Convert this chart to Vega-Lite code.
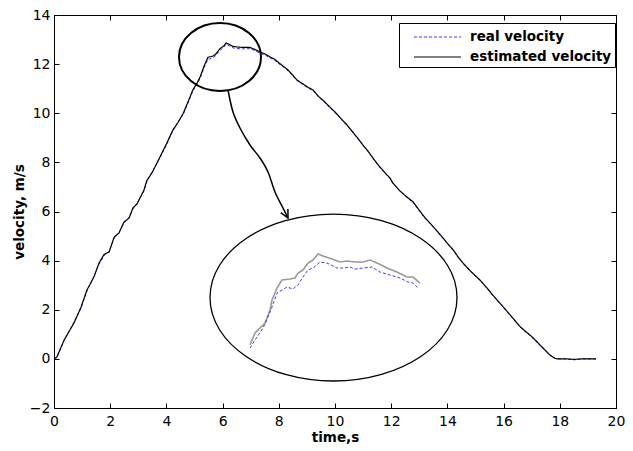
{
  "$schema": "https://vega.github.io/schema/vega-lite/v6.json",
  "width": 562,
  "height": 393,
  "autosize": {"type": "none"},
  "padding": {"left": 54, "top": 15, "right": 17, "bottom": 43},
  "background": "white",
  "config": {
    "view": {"stroke": "black", "strokeWidth": 1},
    "axis": {
      "grid": false,
      "domainColor": "black",
      "domainWidth": 1,
      "tickColor": "black",
      "tickWidth": 1,
      "tickSize": -5,
      "labelColor": "black",
      "labelFont": "DejaVu Sans",
      "labelFontSize": 14,
      "labelFlush": false,
      "labelOverlap": false,
      "titleColor": "black",
      "titleFont": "DejaVu Sans",
      "titleFontSize": 13.5,
      "titleFontWeight": "bold"
    }
  },
  "datasets": {
    "main": [
      {"t":0,"est":0,"real":0},{"t":0.1,"est":0.07,"real":0.05},{"t":0.36,"est":0.77,"real":0.74},{"t":0.71,"est":1.46,"real":1.5},{"t":0.96,"est":2.1,"real":2.06},{"t":1.17,"est":2.8,"real":2.76},{"t":1.42,"est":3.33,"real":3.36},{"t":1.6,"est":3.9,"real":3.85},{"t":1.78,"est":4.25,"real":4.2},{"t":1.96,"est":4.35,"real":4.38},{"t":2.14,"est":4.96,"real":4.9},{"t":2.31,"est":5.12,"real":5.15},{"t":2.49,"est":5.57,"real":5.52},{"t":2.67,"est":5.73,"real":5.76},{"t":2.81,"est":6.15,"real":6.1},{"t":2.95,"est":6.3,"real":6.33},{"t":3.2,"est":6.87,"real":6.82},{"t":3.3,"est":7.25,"real":7.2},{"t":3.5,"est":7.6,"real":7.63},{"t":3.77,"est":8.22,"real":8.18},{"t":4.0,"est":8.75,"real":8.7},{"t":4.23,"est":9.32,"real":9.28},{"t":4.4,"est":9.6,"real":9.63},{"t":4.6,"est":10.0,"real":9.95},{"t":4.8,"est":10.55,"real":10.5},{"t":4.94,"est":10.95,"real":10.9},{"t":5.1,"est":11.25,"real":11.2},{"t":5.2,"est":11.48,"real":11.42},{"t":5.35,"est":11.95,"real":11.88},{"t":5.48,"est":12.28,"real":12.2},{"t":5.66,"est":12.33,"real":12.26},{"t":5.75,"est":12.4,"real":12.34},{"t":5.9,"est":12.62,"real":12.55},{"t":6.05,"est":12.75,"real":12.7},{"t":6.12,"est":12.86,"real":12.8},{"t":6.25,"est":12.8,"real":12.74},{"t":6.37,"est":12.72,"real":12.66},{"t":6.5,"est":12.7,"real":12.64},{"t":6.7,"est":12.68,"real":12.62},{"t":6.97,"est":12.68,"real":12.63},{"t":7.15,"est":12.6,"real":12.55},{"t":7.33,"est":12.49,"real":12.44},{"t":7.5,"est":12.42,"real":12.38},{"t":7.69,"est":12.29,"real":12.25},{"t":7.85,"est":12.2,"real":12.16},{"t":8.04,"est":12.02,"real":11.98},{"t":8.2,"est":11.88,"real":11.85},{"t":8.33,"est":11.76,"real":11.72},{"t":8.5,"est":11.55,"real":11.52},{"t":8.65,"est":11.35,"real":11.33},{"t":8.85,"est":11.2,"real":11.17},{"t":9.05,"est":11.05,"real":11.02},{"t":9.22,"est":10.95,"real":10.92},{"t":9.4,"est":10.7,"real":10.68},{"t":9.6,"est":10.5,"real":10.47},{"t":9.82,"est":10.25,"real":10.22},{"t":10.0,"est":10.05,"real":10.03},{"t":10.2,"est":9.8,"real":9.77},{"t":10.43,"est":9.52,"real":9.5},{"t":10.6,"est":9.28,"real":9.25},{"t":10.8,"est":9.0,"real":8.98},{"t":11.0,"est":8.7,"real":8.68},{"t":11.2,"est":8.42,"real":8.4},{"t":11.4,"est":8.1,"real":8.08},{"t":11.6,"est":7.81,"real":7.78},{"t":11.8,"est":7.55,"real":7.53},{"t":11.96,"est":7.36,"real":7.34},{"t":12.06,"est":7.16,"real":7.14},{"t":12.3,"est":6.85,"real":6.83},{"t":12.55,"est":6.6,"real":6.58},{"t":12.78,"est":6.39,"real":6.36},{"t":13.0,"est":6.05,"real":6.03},{"t":13.2,"est":5.75,"real":5.73},{"t":13.38,"est":5.53,"real":5.51},{"t":13.6,"est":5.25,"real":5.23},{"t":13.8,"est":4.98,"real":4.96},{"t":13.99,"est":4.72,"real":4.7},{"t":14.2,"est":4.45,"real":4.43},{"t":14.4,"est":4.12,"real":4.1},{"t":14.56,"est":3.9,"real":3.88},{"t":14.8,"est":3.6,"real":3.58},{"t":15.0,"est":3.38,"real":3.36},{"t":15.16,"est":3.21,"real":3.19},{"t":15.4,"est":2.9,"real":2.88},{"t":15.6,"est":2.62,"real":2.6},{"t":15.77,"est":2.4,"real":2.38},{"t":16.0,"est":2.1,"real":2.08},{"t":16.2,"est":1.83,"real":1.81},{"t":16.33,"est":1.66,"real":1.64},{"t":16.58,"est":1.32,"real":1.3},{"t":16.8,"est":1.1,"real":1.08},{"t":16.94,"est":0.97,"real":0.95},{"t":17.1,"est":0.8,"real":0.78},{"t":17.3,"est":0.56,"real":0.54},{"t":17.5,"est":0.33,"real":0.31},{"t":17.65,"est":0.16,"real":0.14},{"t":17.8,"est":0.04,"real":0.03},{"t":17.9,"est":0.0,"real":0.0},{"t":18.2,"est":0.0,"real":0.0},{"t":18.5,"est":-0.02,"real":-0.04},{"t":18.8,"est":0.0,"real":0.0},{"t":19.29,"est":0.0,"real":0.0}
    ],
    "insetEst": [
      {"t":6.975,"v":0.564},{"t":7.153,"v":1.052},{"t":7.509,"v":1.459},{"t":7.687,"v":1.989},{"t":7.758,"v":2.396},{"t":7.936,"v":2.884},{"t":8.114,"v":3.21},{"t":8.399,"v":3.251},{"t":8.577,"v":3.292},{"t":8.683,"v":3.495},{"t":8.861,"v":3.617},{"t":9.039,"v":3.902},{"t":9.217,"v":4.024},{"t":9.395,"v":4.269},{"t":9.573,"v":4.187},{"t":9.893,"v":4.065},{"t":10.178,"v":3.943},{"t":10.427,"v":3.984},{"t":10.712,"v":3.943},{"t":10.996,"v":3.943},{"t":11.246,"v":4.024},{"t":11.495,"v":3.902},{"t":11.851,"v":3.7},{"t":12.206,"v":3.536},{"t":12.562,"v":3.332},{"t":12.776,"v":3.332},{"t":13.025,"v":3.088}
    ],
    "insetReal": [
      {"t":6.975,"v":0.441},{"t":7.153,"v":0.767},{"t":7.438,"v":1.256},{"t":7.616,"v":1.704},{"t":7.758,"v":2.111},{"t":7.936,"v":2.681},{"t":8.114,"v":2.803},{"t":8.292,"v":2.925},{"t":8.505,"v":2.844},{"t":8.683,"v":3.007},{"t":8.861,"v":3.332},{"t":9.039,"v":3.617},{"t":9.217,"v":3.699},{"t":9.466,"v":3.943},{"t":9.715,"v":3.902},{"t":10.071,"v":3.699},{"t":10.285,"v":3.699},{"t":10.534,"v":3.74},{"t":10.712,"v":3.658},{"t":10.996,"v":3.699},{"t":11.317,"v":3.74},{"t":11.601,"v":3.536},{"t":11.957,"v":3.414},{"t":12.313,"v":3.292},{"t":12.598,"v":3.129},{"t":12.776,"v":3.088},{"t":12.954,"v":2.884}
    ],
    "arrow": [
      {"t":6.192,"v":10.946},{"t":6.37,"v":10.05},{"t":6.619,"v":9.4},{"t":6.975,"v":8.707},{"t":7.331,"v":8.178},{"t":7.616,"v":7.608},{"t":7.865,"v":6.793},{"t":8.149,"v":6.142},{"t":8.327,"v":5.735}
    ]
  },
  "layer": [
    {
      "data": {"name": "main"},
      "mark": {"type": "line", "strokeWidth": 1, "interpolate": "linear"},
      "encoding": {
        "x": {"field": "t", "type": "quantitative", "scale": {"domain": [0, 20], "nice": false, "zero": false},
              "axis": {"orient": "bottom", "values": [0,2,4,6,8,10,12,14,16,18,20], "title": "time,s", "labelPadding": 11, "titlePadding": 2}},
        "y": {"field": "real", "type": "quantitative", "scale": {"domain": [-2, 14], "nice": false, "zero": false},
              "axis": {"orient": "left", "values": [-2,0,2,4,6,8,10,12,14], "title": "velocity, m/s", "labelPadding": 9, "titlePadding": 3}},
        "color": {"datum": "real velocity", "type": "nominal",
                  "scale": {"domain": ["real velocity", "estimated velocity"], "range": ["#3a3aff", "#000000"]},
                  "legend": {"orient": "none", "legendX": 345, "legendY": 8, "title": null, "symbolType": "M 0.1 0 L 4.8 0", "symbolSize": 400, "symbolStrokeWidth": 1.2, "labelFont": "DejaVu Sans", "labelFontSize": 13.5, "labelFontWeight": "bold", "labelColor": "black", "labelOffset": 46, "padding": 3, "rowPadding": 2, "strokeColor": "black", "fillColor": "white"}},
        "strokeDash": {"datum": "real velocity", "type": "nominal",
                  "scale": {"domain": ["real velocity", "estimated velocity"], "range": [[3, 2], [1, 0]]},
                  "legend": {"orient": "none", "legendX": 345, "legendY": 8, "title": null, "symbolType": "M 0.1 0 L 4.8 0", "symbolSize": 400, "symbolStrokeWidth": 1.2, "labelFont": "DejaVu Sans", "labelFontSize": 13.5, "labelFontWeight": "bold", "labelColor": "black", "labelOffset": 46, "padding": 3, "rowPadding": 2, "strokeColor": "black", "fillColor": "white"}}
      }
    },
    {
      "data": {"name": "main"},
      "mark": {"type": "line", "strokeWidth": 1.2, "interpolate": "linear"},
      "encoding": {
        "x": {"field": "t", "type": "quantitative", "scale": {"domain": [0, 20], "nice": false, "zero": false},
              "axis": {"orient": "top", "values": [0,2,4,6,8,10,12,14,16,18,20], "labels": false, "title": null}},
        "y": {"field": "est", "type": "quantitative", "scale": {"domain": [-2, 14], "nice": false, "zero": false},
              "axis": {"orient": "right", "values": [-2,0,2,4,6,8,10,12,14], "labels": false, "title": null}},
        "color": {"datum": "estimated velocity", "type": "nominal"},
        "strokeDash": {"datum": "estimated velocity", "type": "nominal"}
      }
    },
    {
      "data": {"name": "insetEst"},
      "mark": {"type": "line", "strokeWidth": 1.6, "color": "#9a9a9a"},
      "encoding": {
        "x": {"field": "t", "type": "quantitative", "axis": null},
        "y": {"field": "v", "type": "quantitative", "axis": null}
      }
    },
    {
      "data": {"name": "insetReal"},
      "mark": {"type": "line", "strokeWidth": 1, "color": "#3a3aff", "strokeDash": [3, 2]},
      "encoding": {
        "x": {"field": "t", "type": "quantitative", "axis": null},
        "y": {"field": "v", "type": "quantitative", "axis": null}
      }
    },
    {
      "data": {"values": [{"t": 5.907, "v": 12.29}]},
      "mark": {"type": "point", "shape": "M 1 0 C 1 0.458 0.5523 0.829 0 0.829 C -0.5523 0.829 -1 0.458 -1 0 C -1 -0.458 -0.5523 -0.829 0 -0.829 C 0.5523 -0.829 1 -0.458 1 0 Z", "size": 6724, "filled": false, "color": "black", "strokeWidth": 2, "opacity": 1},
      "encoding": {
        "x": {"field": "t", "type": "quantitative", "axis": null},
        "y": {"field": "v", "type": "quantitative", "axis": null}
      }
    },
    {
      "data": {"values": [{"t": 9.947, "v": 2.498}]},
      "mark": {"type": "point", "shape": "M 1 0 C 1 0.3734 0.5523 0.676 0 0.676 C -0.5523 0.676 -1 0.3734 -1 0 C -1 -0.3734 -0.5523 -0.676 0 -0.676 C 0.5523 -0.676 1 -0.3734 1 0 Z", "size": 61009, "filled": false, "color": "black", "strokeWidth": 1.3, "opacity": 1},
      "encoding": {
        "x": {"field": "t", "type": "quantitative", "axis": null},
        "y": {"field": "v", "type": "quantitative", "axis": null}
      }
    },
    {
      "data": {"name": "arrow"},
      "mark": {"type": "line", "strokeWidth": 1.5, "color": "black", "interpolate": "cardinal"},
      "encoding": {
        "x": {"field": "t", "type": "quantitative", "axis": null},
        "y": {"field": "v", "type": "quantitative", "axis": null}
      }
    },
    {
      "data": {"values": [{"t": 8.327, "v": 5.735}]},
      "mark": {"type": "point", "shape": "M -0.5 -1 L 0 0 L 0.5 -1", "size": 256, "angle": -27, "filled": false, "color": "black", "strokeWidth": 1.5, "opacity": 1},
      "encoding": {
        "x": {"field": "t", "type": "quantitative", "axis": null},
        "y": {"field": "v", "type": "quantitative", "axis": null}
      }
    }
  ],
  "resolve": {"axis": {"x": "independent", "y": "independent"}}
}
